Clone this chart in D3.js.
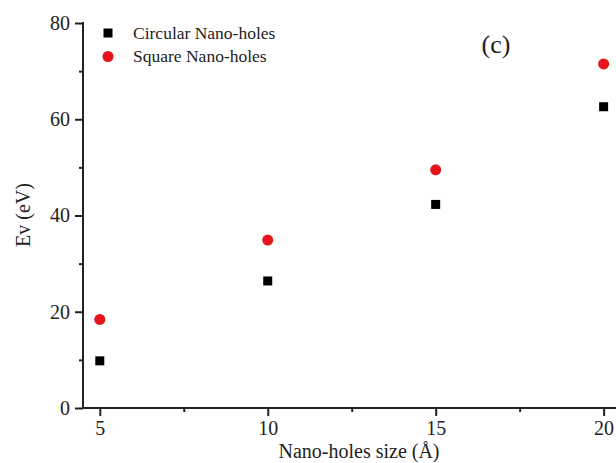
<!DOCTYPE html>
<html><head><meta charset="utf-8">
<script src="https://cdn.jsdelivr.net/npm/d3@7"></script>
<style>body{margin:0;background:#fff}svg{display:block}text{font-family:"Liberation Serif","Times New Roman",serif;fill:#222}</style>
</head><body><svg id="c" width="616" height="463"></svg>
<script>
const sizes = [5, 10, 15, 20];
const circularEv = [9.8, 26.4, 42.3, 62.6];
const squareEv = [18.4, 34.9, 49.5, 71.5];
const xMajorTicks = [5, 10, 15, 20];
const xMinorTicks = [7.5, 12.5, 17.5];
const yMajorTicks = [0, 20, 40, 60, 80];
const yMinorTicks = [10, 30, 50, 70];
const seriesNames = ["Circular Nano-holes", "Square Nano-holes"];
const panelLabel = "(c)";

const svg = d3.select("#c");
const x = d3.scaleLinear().domain([4.5, 21.5]).range([83, 654]);
const y = d3.scaleLinear().domain([0, 80]).range([408, 23]);
const red = "#e8141c";

// axes
const gx = svg.append("g").attr("transform", "translate(0,408)");
gx.call(d3.axisBottom(x).tickValues(xMajorTicks).tickSize(8).tickPadding(5).tickFormat(d3.format("d")));
gx.append("g").call(d3.axisBottom(x).tickValues(xMinorTicks).tickSize(4).tickFormat(""));
const gy = svg.append("g").attr("transform", "translate(83,0)");
gy.call(d3.axisLeft(y).tickValues(yMajorTicks).tickSize(8).tickPadding(5).tickFormat(d3.format("d")));
gy.append("g").call(d3.axisLeft(y).tickValues(yMinorTicks).tickSize(4).tickFormat(""));
svg.selectAll(".tick line").attr("stroke", "#222").attr("stroke-width", 2);
svg.selectAll(".tick text").style("font-family", '"Liberation Serif",serif').style("font-size", "20px").attr("fill", "#333");
svg.selectAll(".domain").remove();
svg.append("line").attr("x1", x.range()[0]).attr("x2", x.range()[1]).attr("y1", y(0)).attr("y2", y(0)).attr("stroke", "#222").attr("stroke-width", 2);
svg.append("line").attr("x1", x.range()[0]).attr("x2", x.range()[0]).attr("y1", y(0) + 1).attr("y2", y(80) - 1).attr("stroke", "#222").attr("stroke-width", 2);

// data
const sq = 9;
svg.append("g").selectAll("rect").data(sizes).join("rect")
  .attr("x", (d) => x(d) - sq / 2).attr("y", (d, i) => y(circularEv[i]) - sq / 2)
  .attr("width", sq).attr("height", sq).attr("fill", "#000");
svg.append("g").selectAll("circle").data(sizes).join("circle")
  .attr("cx", (d) => x(d)).attr("cy", (d, i) => y(squareEv[i])).attr("r", 5.5).attr("fill", red);

// legend
svg.append("rect").attr("x", 103.5).attr("y", 28.5).attr("width", 9).attr("height", 9).attr("fill", "#000");
svg.append("circle").attr("cx", 108).attr("cy", 56.5).attr("r", 5.5).attr("fill", red);
svg.append("text").attr("x", 133).attr("y", 39).style("font-size", "17.5px").text(seriesNames[0]);
svg.append("text").attr("x", 133).attr("y", 62).style("font-size", "17.5px").text(seriesNames[1]);

// panel label
svg.append("text").attr("x", 496).attr("y", 53).attr("text-anchor", "middle").style("font-size", "26px").text(panelLabel);

// axis titles
svg.append("text").attr("x", 359).attr("y", 458).attr("text-anchor", "middle").style("font-size", "20px").text("Nano-holes size (Å)");
svg.append("text").attr("transform", "translate(30,215) rotate(-90)").attr("text-anchor", "middle").style("font-size", "20px").text("Ev (eV)");
</script></body></html>
